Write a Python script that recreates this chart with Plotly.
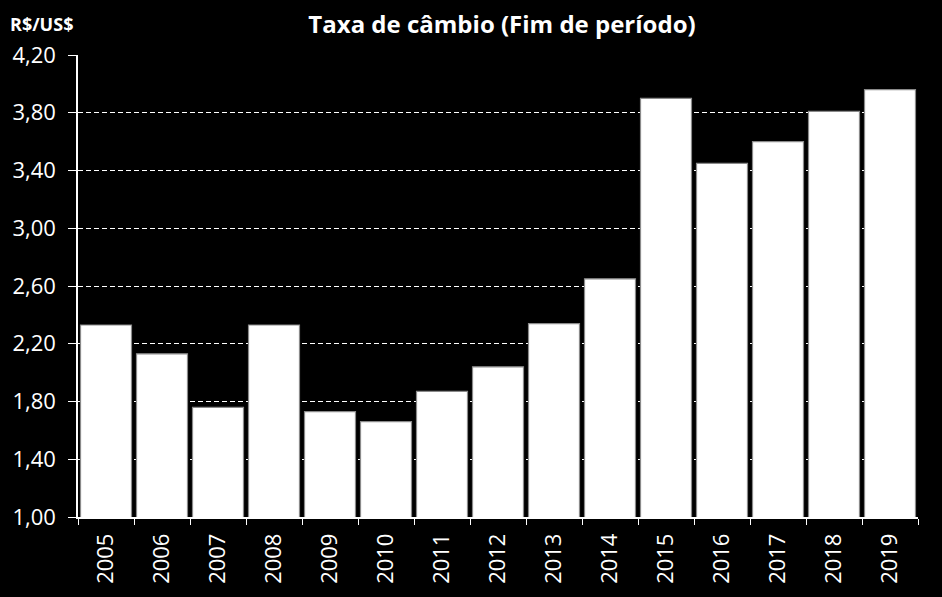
import plotly.graph_objects as go

years = ["2005", "2006", "2007", "2008", "2009", "2010", "2011", "2012",
         "2013", "2014", "2015", "2016", "2017", "2018", "2019"]
rates = [2.33, 2.13, 1.76, 2.33, 1.73, 1.66, 1.87, 2.04,
         2.34, 2.65, 3.90, 3.45, 3.60, 3.81, 3.96]
title_text = "Taxa de câmbio (Fim de período)"
unit_text = "R$/US$"

FONT = "Open Sans"

fig = go.Figure(go.Bar(
    x=years, y=rates,
    marker=dict(color="white", line=dict(color="#8a8a8a", width=1.2)),
    hoverinfo="x+y",
))

fig.update_layout(
    width=942, height=597,
    paper_bgcolor="black", plot_bgcolor="black",
    margin=dict(l=78, r=24, t=55, b=80),
    bargap=0.09,
    separators=",.",
    showlegend=False,
    font=dict(family=FONT, color="white"),
    title=dict(text="<b>" + title_text + "</b>", x=502 / 942, xanchor="center",
               xref="container", yref="container",
               y=1 - 25 / 597, yanchor="middle",
               font=dict(size=24, family=FONT, color="white")),
    annotations=[dict(text="<b>" + unit_text + "</b>", xref="paper", yref="paper",
                      x=-70 / 840, y=(517 - 24) / 462, xanchor="left", yanchor="middle",
                      showarrow=False,
                      font=dict(size=18, family=FONT, color="white"))],
)

fig.update_yaxes(
    range=[1.0, 4.2], dtick=0.4, tick0=1.0, tickformat=".2f",
    showgrid=True, gridcolor="white", gridwidth=1, griddash="5px,3px",
    showline=True, linecolor="white", linewidth=1.5,
    ticks="outside", ticklen=8, tickcolor="white",
    tickfont=dict(size=22, color="white", family=FONT),
    zeroline=False, ticklabelstandoff=8,
)
fig.update_xaxes(
    type="category", tickangle=-90,
    showline=True, linecolor="white", linewidth=1.5,
    ticks="outside", ticklen=6, tickcolor="white", tickson="boundaries",
    tickfont=dict(size=22, color="white", family=FONT),
    showgrid=False, ticklabelstandoff=6,
)

fig.write_html("out.html")
